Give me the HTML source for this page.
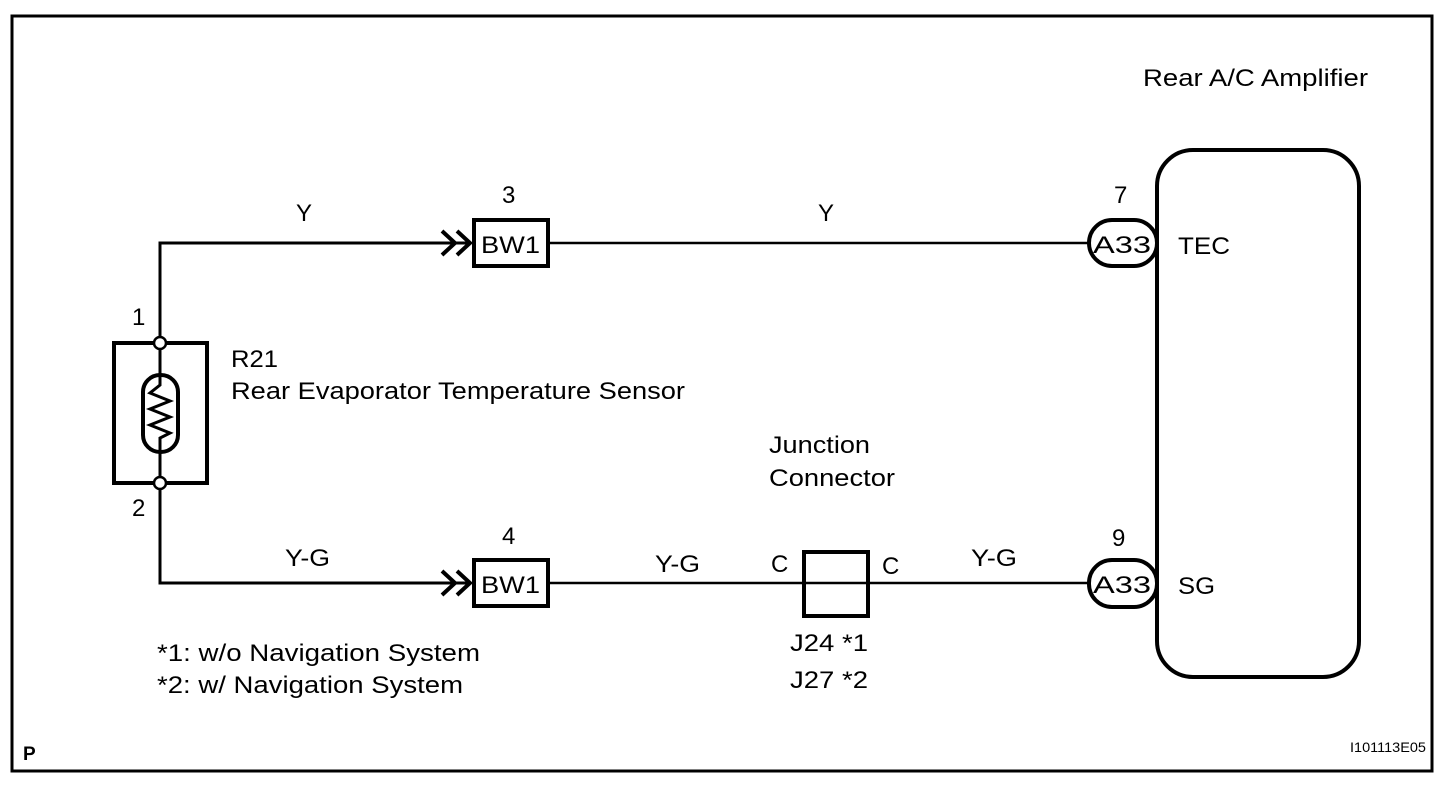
<!DOCTYPE html>
<html><head><meta charset="utf-8"><style>
html,body{margin:0;padding:0;background:#fff;}
svg{display:block;}
text{font-family:"Liberation Sans",Arial,sans-serif;fill:#000;}
</style></head><body>
<svg width="1456" height="792" viewBox="0 0 1456 792" xmlns="http://www.w3.org/2000/svg">
<rect x="12" y="16" width="1420" height="755" fill="none" stroke="#000" stroke-width="3"/>
<g stroke="#000" fill="none">
<polyline points="160,338 160,243 468,243" stroke-width="3"/>
<line x1="548" y1="243" x2="1088" y2="243" stroke-width="2.5"/>
<polyline points="160,489 160,583 468,583" stroke-width="3"/>
<line x1="548" y1="583" x2="1088" y2="583" stroke-width="2.5"/>
<polyline points="442,231 455,243 442,255" stroke-width="4"/>
<polyline points="457,231 470,243 457,255" stroke-width="4"/>
<polyline points="442,571 455,583 442,595" stroke-width="4"/>
<polyline points="457,571 470,583 457,595" stroke-width="4"/>
<rect x="474" y="220" width="74" height="46" stroke-width="4" fill="#fff"/>
<rect x="474" y="560" width="74" height="46" stroke-width="4" fill="#fff"/>
<rect x="804" y="552" width="64" height="64" stroke-width="4"/>
<rect x="114" y="343" width="93" height="140" stroke-width="4"/>
<line x1="160" y1="343" x2="160" y2="483" stroke-width="3"/>
<rect x="143" y="375" width="35" height="77" rx="17" stroke-width="4" fill="#fff"/>
<polyline points="160,375 160,385 150,393 170,401 150,409 170,417 150,425 170,433 160,438 160,452" stroke-width="3"/>
<circle cx="160" cy="343" r="6" stroke-width="2.5" fill="#fff"/>
<circle cx="160" cy="483" r="6" stroke-width="2.5" fill="#fff"/>
<rect x="1157" y="150" width="202" height="527" rx="36" stroke-width="4" fill="#fff"/>
<rect x="1089" y="220" width="68" height="46" rx="23" stroke-width="4" fill="#fff"/>
<rect x="1089" y="560" width="68" height="47" rx="23" stroke-width="4" fill="#fff"/>
</g>
<g font-size="24">
<text x="1143" y="86" textLength="225" lengthAdjust="spacingAndGlyphs">Rear A/C Amplifier</text>
<text x="296" y="221">Y</text>
<text x="502" y="203">3</text>
<text x="818" y="221">Y</text>
<text x="1114" y="203">7</text>
<text x="132" y="325">1</text>
<text x="231" y="367" textLength="47" lengthAdjust="spacingAndGlyphs">R21</text>
<text x="231" y="399" textLength="454" lengthAdjust="spacingAndGlyphs">Rear Evaporator Temperature Sensor</text>
<text x="769" y="453" textLength="101" lengthAdjust="spacingAndGlyphs">Junction</text>
<text x="769" y="486" textLength="126" lengthAdjust="spacingAndGlyphs">Connector</text>
<text x="132" y="516">2</text>
<text x="285" y="566" textLength="45" lengthAdjust="spacingAndGlyphs">Y-G</text>
<text x="502" y="544">4</text>
<text x="655" y="572" textLength="45" lengthAdjust="spacingAndGlyphs">Y-G</text>
<text x="971" y="566" textLength="46" lengthAdjust="spacingAndGlyphs">Y-G</text>
<text x="771" y="572">C</text>
<text x="882" y="574">C</text>
<text x="1112" y="546">9</text>
<text x="1178" y="594" textLength="37" lengthAdjust="spacingAndGlyphs">SG</text>
<text x="1178" y="254" textLength="52" lengthAdjust="spacingAndGlyphs">TEC</text>
<text x="790" y="651" textLength="78" lengthAdjust="spacingAndGlyphs">J24 *1</text>
<text x="790" y="688" textLength="78" lengthAdjust="spacingAndGlyphs">J27 *2</text>
<text x="157" y="661" textLength="323" lengthAdjust="spacingAndGlyphs">*1: w/o Navigation System</text>
<text x="157" y="693" textLength="306" lengthAdjust="spacingAndGlyphs">*2: w/ Navigation System</text>
<text x="481" y="253" textLength="59" lengthAdjust="spacingAndGlyphs">BW1</text>
<text x="481" y="593" textLength="59" lengthAdjust="spacingAndGlyphs">BW1</text>
<text x="1093" y="253" textLength="58" lengthAdjust="spacingAndGlyphs">A33</text>
<text x="1093" y="593" textLength="58" lengthAdjust="spacingAndGlyphs">A33</text>
</g>
<text x="23" y="760" font-size="19" font-weight="bold">P</text>
<text x="1350" y="752" font-size="14" textLength="76" lengthAdjust="spacingAndGlyphs">I101113E05</text>
</svg>
</body></html>
